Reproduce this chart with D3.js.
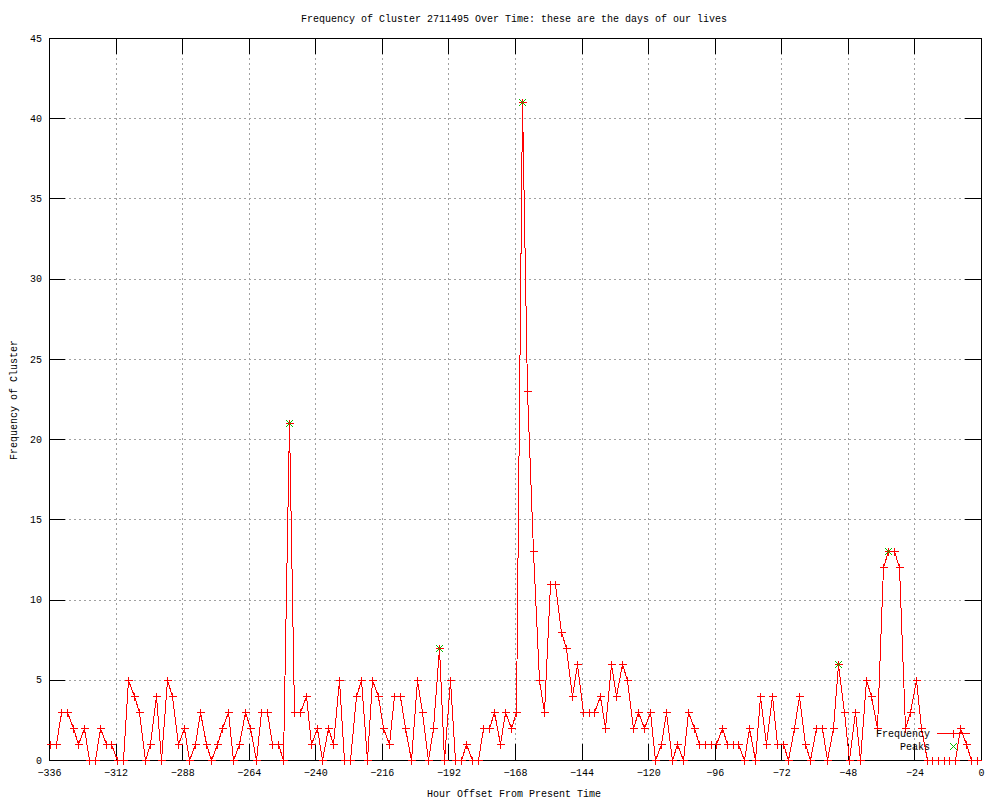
<!DOCTYPE html>
<html>
<head>
<meta charset="utf-8">
<script src="https://cdnjs.cloudflare.com/ajax/libs/d3/7.8.5/d3.min.js"></script>
<style>
  body { margin: 0; background: #fff; }
  text { font-family: "Liberation Mono", "DejaVu Sans Mono", monospace; font-size: 10px; fill: #000; }
</style>
</head>
<body>
<div id="chart"></div>
<script>
// hour offsets of each sample
var hours = [
  -335.5,-333.5,-331.5,-329.5,-327.5,-325.5,-323.5,-321.5,-319.5,-317.5,-315.5,-313.5,
  -311.5,-309.5,-307.5,-305.5,-303.5,-301.5,-299.5,-297.5,-295.5,-293.5,-291.5,-289.5,
  -287.5,-285.5,-283.5,-281.5,-279.5,-277.5,-275.5,-273.5,-271.5,-269.5,-267.5,-265.5,
  -263.5,-261.5,-259.5,-257.5,-255.5,-253.5,-251.5,-249.5,-247.5,-245.5,-243.5,-241.5,
  -239.5,-237.5,-235.5,-233.5,-231.5,-229.5,-227.5,-225.5,-223.5,-221.5,-219.5,-217.5,
  -215.5,-213.5,-211.5,-209.5,-207.5,-205.5,-203.5,-201.5,-199.5,-197.5,-195.5,-193.5,
  -191.5,-189.5,-187.5,-185.5,-183.5,-181.5,-179.5,-177.5,-175.5,-173.5,-171.5,-169.5,
  -167.5,-165.5,-163.5,-161.5,-159.5,-157.5,-155.5,-153.5,-151.5,-149.5,-147.5,-145.5,
  -143.5,-141.5,-139.5,-137.5,-135.5,-133.5,-131.5,-129.5,-127.5,-125.5,-123.5,-121.5,
  -119.5,-117.5,-115.5,-113.5,-111.5,-109.5,-107.5,-105.5,-103.5,-101.5,-99.5,-97.5,
  -95.5,-93.5,-91.5,-89.5,-87.5,-85.5,-83.5,-81.5,-79.5,-77.5,-75.5,-73.5,
  -71.5,-69.5,-67.5,-65.5,-63.5,-61.5,-59.5,-57.5,-55.5,-53.5,-51.5,-49.5,
  -47.5,-45.5,-43.5,-41.5,-39.5,-37.5,-35.5,-33.5,-31.5,-29.5,-27.5,-25.5,
  -23.5,-21.5,-19.5,-17.5,-15.5,-13.5,-11.5,-9.5,-7.5,-5.5,-3.5,-1.5
];

var frequency = [
  1,1,3,3,2,1,2,0,0,2,1,1,
  0,0,5,4,3,0,1,4,0,5,4,1,
  2,0,1,3,1,0,1,2,3,0,1,3,
  2,0,3,3,1,1,0,21,3,3,4,1,
  2,0,2,1,5,0,0,4,5,0,5,4,
  2,1,4,4,2,0,5,3,0,2,7,0,
  5,0,0,1,0,0,2,2,3,1,3,2,
  3,41,23,13,5,3,11,11,8,7,4,6,
  3,3,3,4,2,6,4,6,5,2,3,2,
  3,0,1,3,0,1,0,3,2,1,1,1,
  1,2,1,1,1,0,2,0,4,1,4,1,
  1,0,2,4,1,0,2,2,0,2,6,3,
  0,3,0,5,4,2,12,13,13,12,2,3,
  5,2,0,0,0,0,0,0,2,1,0,0
];

var peakHours = [-249.5, -195.5, -165.5, -51.5, -33.5];
var peakValues = [21, 7, 41, 6, 13];

var xTicks = [-336,-312,-288,-264,-240,-216,-192,-168,-144,-120,-96,-72,-48,-24,0];
var yTicks = [0,5,10,15,20,25,30,35,40,45];

var W = 1000, H = 800;
var margin = {left: 49, top: 38, right: 19, bottom: 40};
var width = W - margin.left - margin.right,
    height = H - margin.top - margin.bottom;

var svg = d3.select("#chart").append("svg")
    .attr("width", W)
    .attr("height", H);

var g = svg.append("g")
    .attr("transform", "translate(" + margin.left + "," + margin.top + ")");

var xScale = d3.scaleLinear().domain([-336, 0]).range([0, width]);
var yScale = d3.scaleLinear().domain([0, 45]).range([height, 0]);

var RED = "#ff0000", GREEN = "#00c000";

// grid (dotted grey)
g.append("g").selectAll("line")
    .data(xTicks.slice(1, -1))
    .enter().append("line")
    .attr("x1", function(d) { return Math.round(xScale(d)) + 0.5; })
    .attr("x2", function(d) { return Math.round(xScale(d)) + 0.5; })
    .attr("y1", 0).attr("y2", height)
    .attr("stroke", "#a0a0a0")
    .attr("stroke-dasharray", "2,3");

g.append("g").selectAll("line")
    .data(yTicks.slice(1, -1))
    .enter().append("line")
    .attr("y1", function(d) { return Math.round(yScale(d)) + 0.5; })
    .attr("y2", function(d) { return Math.round(yScale(d)) + 0.5; })
    .attr("x1", 0).attr("x2", width)
    .attr("stroke", "#a0a0a0")
    .attr("stroke-dasharray", "2,3");

// axes: gnuplot style, inward ticks mirrored on all sides
var tickLen = 16;
var xAxisB = d3.axisBottom(xScale).tickValues(xTicks).tickSize(-tickLen).tickPadding(9)
    .tickFormat(d3.format("d"));
var xAxisT = d3.axisTop(xScale).tickValues(xTicks).tickSize(-tickLen).tickFormat("");
var yAxisL = d3.axisLeft(yScale).tickValues(yTicks).tickSize(-tickLen).tickPadding(7);
var yAxisR = d3.axisRight(yScale).tickValues(yTicks).tickSize(-tickLen).tickFormat("");

function styleAxis(sel) {
    sel.select(".domain").remove();
    sel.selectAll("line").attr("stroke", "#000").attr("shape-rendering", "crispEdges");
    sel.selectAll("text").style("font-family", "'Liberation Mono', 'DejaVu Sans Mono', monospace")
        .style("font-size", "10px").attr("fill", "#000");
}

g.append("g").attr("transform", "translate(0," + height + ")").call(xAxisB).call(styleAxis);
g.append("g").call(xAxisT).call(styleAxis);
g.append("g").call(yAxisL).call(styleAxis);
g.append("g").attr("transform", "translate(" + width + ",0)").call(yAxisR).call(styleAxis);

// border
g.append("rect")
    .attr("x", 0.5).attr("y", 0.5)
    .attr("width", width).attr("height", height)
    .attr("fill", "none").attr("stroke", "#000")
    .attr("shape-rendering", "crispEdges");

// frequency line
var series = hours.map(function(h, i) { return {h: h, v: frequency[i]}; });

var line = d3.line()
    .x(function(d) { return Math.round(xScale(d.h)) + 0.5; })
    .y(function(d) { return Math.round(yScale(d.v)) + 0.5; });

g.append("path")
    .datum(series)
    .attr("d", line)
    .attr("fill", "none")
    .attr("stroke", RED)
    .attr("stroke-width", 1)
    .attr("shape-rendering", "crispEdges");

function plusPath(x, y, r) {
    return "M" + (x - r) + "," + y + "H" + (x + r) + "M" + x + "," + (y - r) + "V" + (y + r);
}
function crossPath(x, y, r) {
    return "M" + (x - r) + "," + (y - r) + "L" + (x + r) + "," + (y + r)
        + "M" + (x - r) + "," + (y + r) + "L" + (x + r) + "," + (y - r);
}

g.append("g").selectAll("path")
    .data(series)
    .enter().append("path")
    .attr("d", function(d) { return plusPath(Math.round(xScale(d.h)) + 0.5, Math.round(yScale(d.v)) + 0.5, 4); })
    .attr("stroke", RED)
    .attr("shape-rendering", "crispEdges")
    .attr("fill", "none");

// peaks
var peaks = peakHours.map(function(h, i) { return {h: h, v: peakValues[i]}; });
g.append("g").selectAll("path")
    .data(peaks)
    .enter().append("path")
    .attr("d", function(d) { return crossPath(Math.round(xScale(d.h)) + 0.5, Math.round(yScale(d.v)) + 0.5, 3.5); })
    .attr("stroke", GREEN)
    .attr("fill", "none");

// legend
var legX = 930, legY = 733;
svg.append("text").attr("x", legX).attr("y", legY).attr("text-anchor", "end")
    .attr("dy", "0.35em").text("Frequency");
svg.append("line").attr("x1", legX + 7).attr("x2", legX + 40)
    .attr("y1", legY + 0.5).attr("y2", legY + 0.5).attr("stroke", RED)
    .attr("shape-rendering", "crispEdges");
svg.append("path").attr("d", plusPath(legX + 23.5, legY + 0.5, 4)).attr("stroke", RED)
    .attr("shape-rendering", "crispEdges");
svg.append("text").attr("x", legX).attr("y", legY + 13).attr("text-anchor", "end")
    .attr("dy", "0.35em").text("Peaks");
svg.append("path").attr("d", crossPath(legX + 23.5, legY + 13.5, 3.5))
    .attr("stroke", GREEN).attr("fill", "none");

// titles
svg.append("text").attr("x", 514).attr("y", 18).attr("text-anchor", "middle")
    .attr("dy", "0.35em").text("Frequency of Cluster 2711495 Over Time: these are the days of our lives");
svg.append("text").attr("x", 514).attr("y", 793).attr("text-anchor", "middle")
    .attr("dy", "0.35em").text("Hour Offset From Present Time");
svg.append("text").attr("transform", "translate(13,400) rotate(-90)").attr("text-anchor", "middle")
    .attr("dy", "0.35em").text("Frequency of Cluster");
</script>
</body>
</html>
